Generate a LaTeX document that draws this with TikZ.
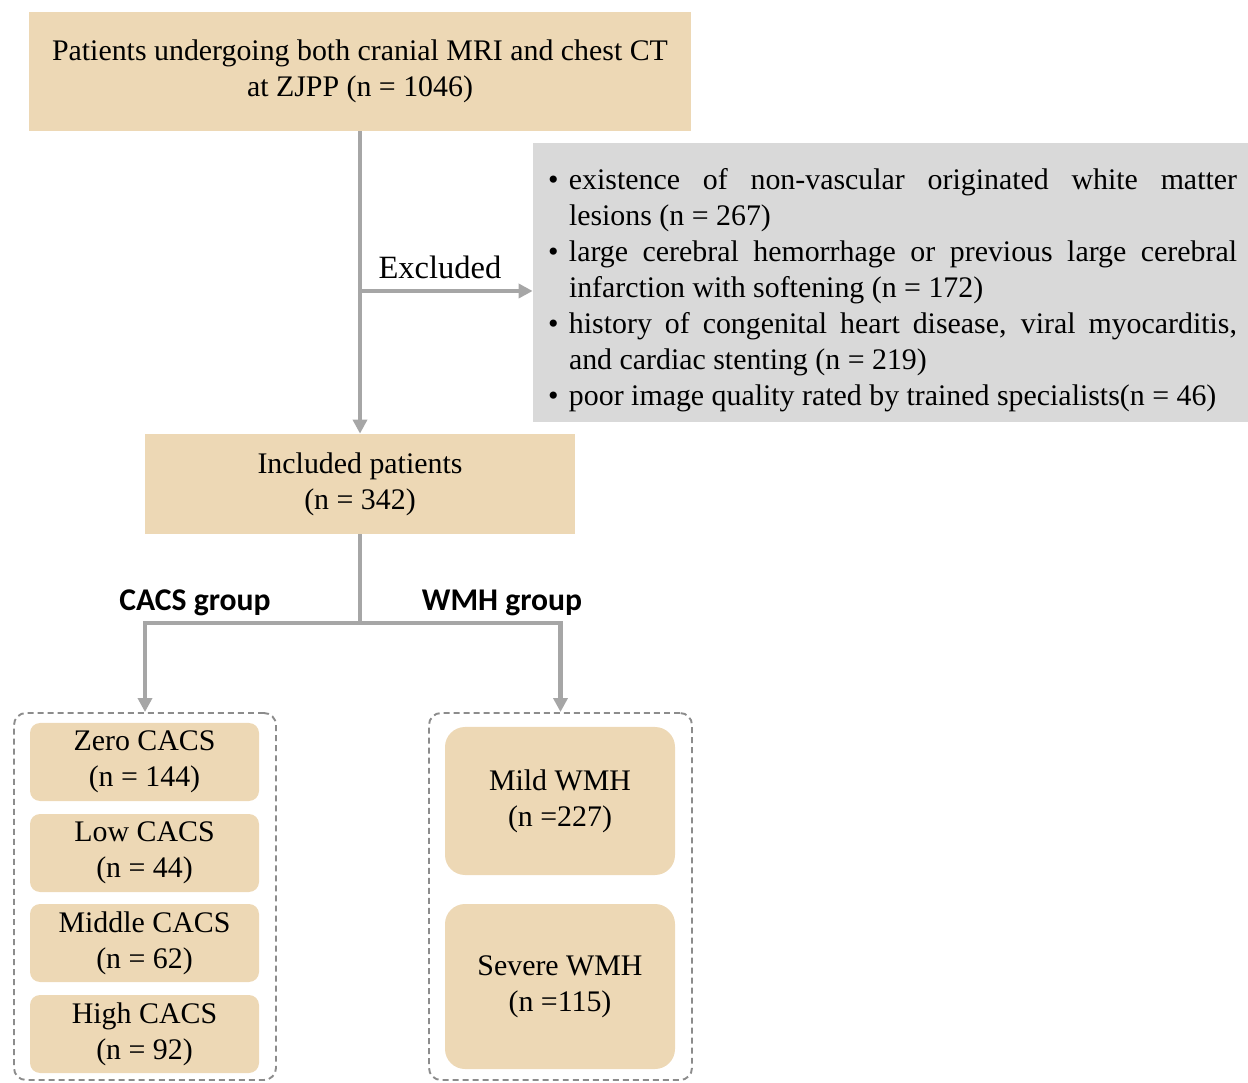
\documentclass[tikz,border=0pt]{standalone}
\usepackage{fontspec}
\setmainfont{Liberation Serif}
\newfontfamily\groupfont{Carlito}
\usetikzlibrary{arrows.meta}
\definecolor{boxtan}{RGB}{237,216,181}
\definecolor{boxgray}{RGB}{217,217,217}
\definecolor{linegray}{RGB}{166,166,166}
\definecolor{dashgray}{RGB}{140,140,140}
\newcommand{\flowfont}{\fontsize{17}{20.5}\selectfont}
\newcommand{\exitem}[1]{\par\noindent\hangindent=0.5cm\hangafter=1\makebox[0.5cm][l]{\hspace{0.08cm}\textbullet}#1}
\tikzstyle{every node}=[font=\flowfont]
\tikzstyle{tanbox}=[fill=boxtan,align=center,inner sep=0pt]
\tikzstyle{cacsbox}=[tanbox,rounded corners=0.2cm,minimum width=4.58cm,minimum height=1.56cm]
\tikzstyle{wmhbox}=[tanbox,rounded corners=0.4cm,minimum width=4.6cm]
\tikzstyle{groupframe}=[draw=dashgray,line width=1.1pt,dash pattern=on 3.4pt off 2.3pt,rounded corners=0.24cm]
\tikzstyle{grouplabel}=[font=\groupfont\bfseries\fontsize{18}{21}\selectfont]
\tikzstyle{link}=[draw=linegray,line width=2.4pt]
\tikzstyle{flow}=[link,-{Triangle[width=0.28cm,length=0.28cm]}]

\begin{document}
\begin{tikzpicture}
    \useasboundingbox (0,0) rectangle (24.96,-21.66);

    % Screened and included patients
    \node[tanbox,minimum width=13.24cm,minimum height=2.38cm] (screen) at (7.2,-1.43)
        {Patients undergoing both cranial MRI and chest CT\\at ZJPP (n = 1046)};
    \node[tanbox,minimum width=8.6cm,minimum height=2cm] (incl) at (7.2,-9.68)
        {Included patients\\(n = 342)};

    % Exclusion criteria
    \node[fill=boxgray,minimum width=14.3cm,minimum height=5.58cm,text width=13.86cm,
        align=justify,inner sep=0pt] (excl) at (17.81,-5.65)
        {\sloppy
        \exitem{existence of non-vascular originated white matter\linebreak lesions (n = 267)}
        \exitem{large cerebral hemorrhage or previous large cerebral\linebreak infarction with softening (n = 172)}
        \exitem{history of congenital heart disease, viral myocarditis,\linebreak and cardiac stenting (n = 219)}
        \exitem{poor image quality rated by trained specialists(n = 46)}};
    \node[font=\fontsize{18.5}{22}\selectfont] (exlabel) at (8.8,-5.34) {Excluded};

    \coordinate (branch) at (7.2,-5.82);
    \coordinate (split) at (7.2,-12.46);
    \draw[flow] (screen.south) -- (incl.north);
    \draw[flow] (branch) -- (branch -| excl.west);

    % Groups
    \node[grouplabel] (cacslabel) at (3.9,-12.05) {CACS group};
    \node[grouplabel] (wmhlabel) at (10.04,-12.05) {WMH group};
    \node[groupframe,minimum width=5.24cm,minimum height=7.34cm] (cacs) at (2.9,-17.93) {};
    \node[groupframe,minimum width=5.26cm,minimum height=7.34cm] (wmh) at (11.21,-17.93) {};
    \draw[link] (incl.south) -- (split);
    \draw[flow] (split) -| (cacs.north);
    \draw[flow] (split) -| (wmh.north);

    % CACS classes
    \node[cacsbox] (zero) at (2.89,-15.24) {Zero CACS\\(n = 144)};
    \node[cacsbox] (low) at (2.89,-17.06) {Low CACS\\(n = 44)};
    \node[cacsbox] (middle) at (2.89,-18.86) {Middle CACS\\(n = 62)};
    \node[cacsbox] (high) at (2.89,-20.68) {High CACS\\(n = 92)};

    % WMH classes
    \node[wmhbox,minimum height=2.96cm] (mild) at (11.2,-16.02) {Mild WMH\\(n =227)};
    \node[wmhbox,minimum height=3.3cm] (severe) at (11.2,-19.73) {Severe WMH\\(n =115)};
\end{tikzpicture}
\end{document}
